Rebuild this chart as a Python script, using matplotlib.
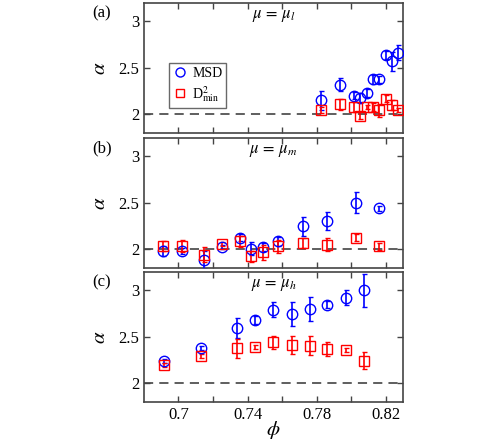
import matplotlib
matplotlib.use('Agg')
import matplotlib.pyplot as plt
from matplotlib.lines import Line2D

plt.rcParams['font.family'] = ['Liberation Serif', 'DejaVu Serif']
plt.rcParams['mathtext.fontset'] = 'stix'

# panel (a): mu = mu_l
phi_a = [0.7828, 0.7938, 0.8015, 0.8050, 0.8092, 0.8127, 0.8161, 0.8202, 0.8237, 0.8273]
msd_a = [2.15, 2.32, 2.20, 2.18, 2.23, 2.375, 2.375, 2.635, 2.57, 2.66]
msd_a_err = [0.10, 0.07, 0.04, 0.05, 0.04, 0.05, 0.04, 0.04, 0.10, 0.08]
d2_a = [2.046, 2.107, 2.08, 1.985, 2.075, 2.08, 2.046, 2.167, 2.10, 2.046]
d2_a_err = [0.03, 0.06, 0.05, 0.04, 0.02, 0.04, 0.07, 0.04, 0.05, 0.02]

# panel (b): mu = mu_m
phi_b = [0.6912, 0.7018, 0.7149, 0.7253, 0.7356, 0.7419, 0.7490, 0.7577, 0.7722, 0.7863, 0.8031, 0.8162]
msd_b = [1.982, 1.982, 1.888, 2.025, 2.127, 2.008, 2.025, 2.087, 2.249, 2.307, 2.502, 2.441]
msd_b_err = [0.05, 0.03, 0.10, 0.02, 0.04, 0.07, 0.04, 0.05, 0.10, 0.10, 0.11, 0.03]
d2_b = [2.036, 2.036, 1.943, 2.062, 2.087, 1.927, 1.967, 2.033, 2.068, 2.051, 2.127, 2.033]
d2_b_err = [0.05, 0.06, 0.08, 0.02, 0.06, 0.06, 0.08, 0.07, 0.05, 0.07, 0.04, 0.04]

# panel (c): mu = mu_h
phi_c = [0.6916, 0.7128, 0.7340, 0.7446, 0.7548, 0.7655, 0.7761, 0.7863, 0.7969, 0.8075]
msd_c = [2.238, 2.378, 2.598, 2.681, 2.791, 2.744, 2.799, 2.846, 2.920, 3.0]
msd_c_err = [0.02, 0.02, 0.11, 0.04, 0.08, 0.13, 0.13, 0.04, 0.08, 0.18]
d2_c = [2.195, 2.293, 2.378, 2.389, 2.444, 2.414, 2.407, 2.370, 2.359, 2.242]
d2_c_err = [0.02, 0.02, 0.10, 0.02, 0.07, 0.10, 0.10, 0.08, 0.02, 0.09]

panels = [
    ('(a)', r'$\mu\,=\,\mu_l$', phi_a, msd_a, msd_a_err, d2_a, d2_a_err),
    ('(b)', r'$\mu\,=\,\mu_m$', phi_b, msd_b, msd_b_err, d2_b, d2_b_err),
    ('(c)', r'$\mu\,=\,\mu_h$', phi_c, msd_c, msd_c_err, d2_c, d2_c_err),
]

fig = plt.figure(figsize=(4.98, 4.43), dpi=100)
bottoms = [0.700, 0.395, 0.0926]
height = 0.294
spine_col = '#444444'

for i, (lab, title, phi, msd, msd_err, d2, d2_err) in enumerate(panels):
    ax = fig.add_axes([0.289, bottoms[i], 0.52, height])
    ax.axhline(2, color='#333333', ls=(0, (6, 4)), lw=1.1, zorder=1)
    ax.errorbar(phi, msd, yerr=msd_err, fmt='o', mfc='none', mec='blue',
                ecolor='blue', ms=7.5, mew=1.0, elinewidth=1.2, capsize=1.8,
                zorder=3)
    ax.errorbar(phi, d2, yerr=d2_err, fmt='s', mfc='none', mec='red',
                ecolor='red', ms=6.5, mew=1.0, elinewidth=1.2, capsize=1.8,
                zorder=3)
    ax.set_xlim(0.68, 0.83)
    ax.set_ylim(1.8, 3.2)
    ax.set_yticks([2, 2.5, 3])
    ax.set_yticklabels(['2', '2.5', '3'])
    ax.set_xticks([0.70, 0.72, 0.74, 0.76, 0.78, 0.80, 0.82])
    if i == 2:
        ax.set_xticklabels(['0.7', '', '0.74', '', '0.78', '', '0.82'])
        ax.set_xlabel(r'$\phi$', fontsize=15, labelpad=-3)
    else:
        ax.set_xticklabels([])
    ax.tick_params(direction='in', top=True, right=True, length=4,
                   labelsize=12, color=spine_col, width=1)
    for s in ax.spines.values():
        s.set_color(spine_col)
        s.set_linewidth(1.2)
    ax.set_ylabel(r'$\alpha$', fontsize=15, labelpad=6)
    ax.text(0.5, 0.9, title, transform=ax.transAxes, ha='center', va='center',
            fontsize=12)
    ax.text(-0.2, 0.92, lab, transform=ax.transAxes, ha='left', va='center',
            fontsize=12)
    if i == 0:
        handles = [
            Line2D([], [], ls='none', marker='o', mfc='none', mec='blue', ms=6.5, mew=1.0),
            Line2D([], [], ls='none', marker='s', mfc='none', mec='red', ms=5.5, mew=1.0),
        ]
        leg = ax.legend(handles, ['MSD', r'D$^2_{\rm min}$'], loc='upper left',
                        bbox_to_anchor=(0.095, 0.54), fontsize=10,
                        frameon=True, fancybox=False, handletextpad=0.4,
                        borderpad=0.3, labelspacing=0.3, handlelength=1.0,
                        borderaxespad=0, numpoints=1)
        leg.get_frame().set_edgecolor(spine_col)
        leg.get_frame().set_linewidth(1.0)

fig.savefig('out.png', dpi=100)
